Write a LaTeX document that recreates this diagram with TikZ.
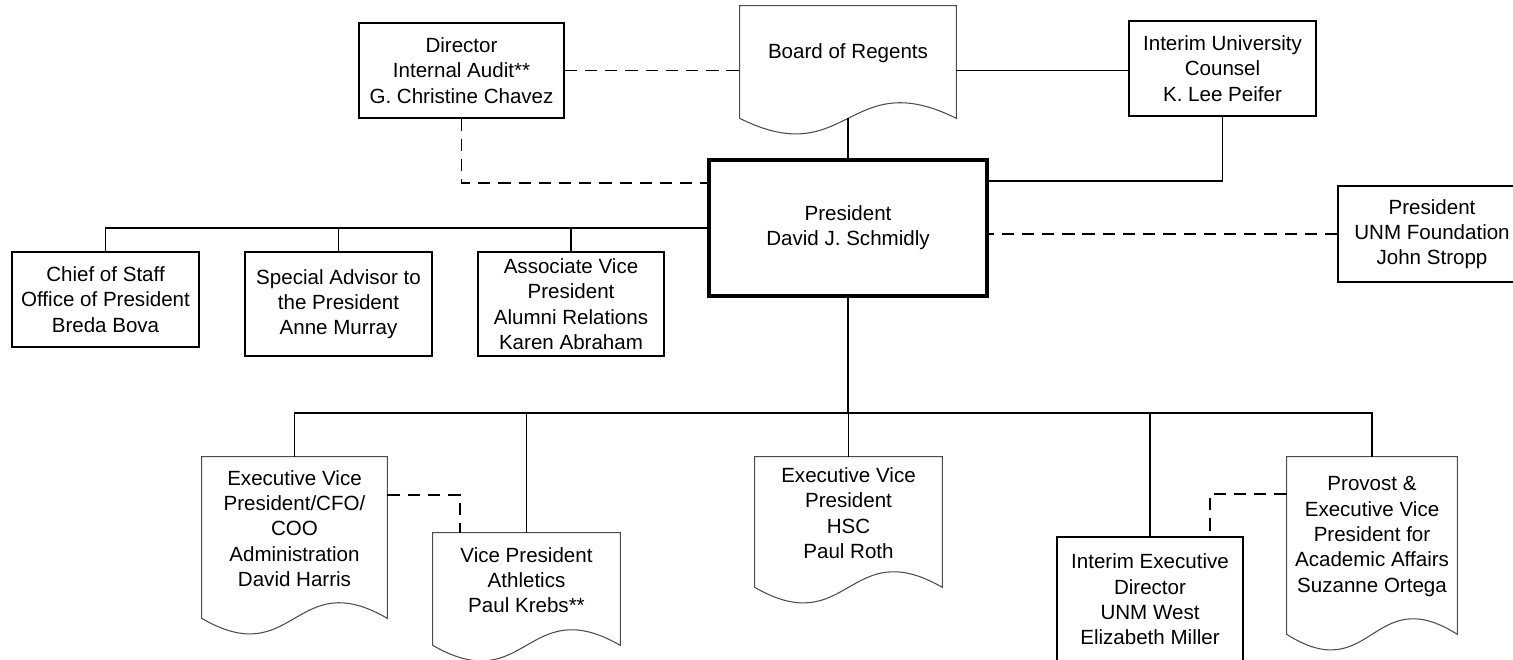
\documentclass[tikz,border=0pt]{standalone}
\usepackage{fontspec}
\setmainfont{Liberation Sans}
\usetikzlibrary{calc}
\newcommand\orgfont{\fontsize{11.7}{14.4}\selectfont}
\tikzset{
  orgbox/.style={draw,line width=0.9pt,align=center,inner sep=0pt,font=\orgfont},
  docbox/.style={align=center,inner sep=0pt,font=\orgfont},
  docline/.style={line width=0.6pt,black!70},
  presbox/.style={orgbox,line width=2.3pt},
  link/.style={line width=0.85pt},
  dotlink/.style={link,dash pattern=on 7pt off 4.5pt},
}
% document outline: straight top and sides, wavy bottom below the node
\newcommand\docoutline[1]{%
  \draw[docline] (#1.north west) -- (#1.north east) -- ($(#1.south east)+(0,18)$)
    .. controls ($(#1.south)+(0,-36)$) and ($(#1.south)+(0,72)$) .. ($(#1.south west)+(0,18)$)
    -- cycle;}

\begin{document}
\begin{tikzpicture}[x=0.02cm,y=-0.02cm]
  \useasboundingbox (0,0) rectangle (1513,659);
  % --- top row ---
  \node[orgbox,minimum width=4.1cm,minimum height=1.9cm] (audit) at (461.5,70.5)
    {Director\\Internal Audit**\\G. Christine Chavez};
  \node[docbox,minimum width=4.32cm,minimum height=1.88cm] (board) at (848,53) {Board of Regents};
  \node[orgbox,minimum width=3.74cm,minimum height=1.9cm] (counsel) at (1222.5,68.5)
    {Interim University\\Counsel\\K. Lee Peifer};
  \node[presbox,minimum width=5.56cm,minimum height=2.72cm] (pres) at (848,228)
    {President\\David J. Schmidly};
  \node[orgbox,minimum width=3.76cm,minimum height=1.92cm] (found) at (1432,234)
    {President\\UNM Foundation\\John Stropp};
  % --- staff row ---
  \node[orgbox,minimum width=3.74cm,minimum height=1.9cm] (chief) at (105.5,299.5)
    {Chief of Staff\\Office of President\\Breda Bova};
  \node[orgbox,minimum width=3.74cm,minimum height=2.08cm] (advisor) at (338.5,304)
    {Special Advisor to\\the President\\Anne Murray};
  \node[orgbox,minimum width=3.72cm,minimum height=2.08cm] (alumni) at (571,304)
    {Associate Vice\\President\\Alumni Relations\\Karen Abraham};
  % --- vice presidents ---
  \node[docbox,minimum width=3.7cm,minimum height=2.86cm] (cfo) at (294.5,528.5)
    {Executive Vice\\President/CFO/\\COO\\Administration\\David Harris};
  \node[docbox,minimum width=3.74cm,minimum height=1.88cm] (athl) at (526.5,580)
    {Vice President\\Athletics\\Paul Krebs**};
  \node[docbox,minimum width=3.74cm,minimum height=2.24cm] (hsc) at (848.5,513)
    {Executive Vice\\President\\HSC\\Paul Roth};
  \node[orgbox,minimum width=3.72cm,minimum height=2.5cm] (west) at (1150,599.5)
    {Interim Executive\\Director\\UNM West\\Elizabeth Miller};
  \node[docbox,minimum width=3.4cm,minimum height=3.18cm] (provost) at (1372,536.5)
    {Provost \&\\Executive Vice\\President for\\Academic Affairs\\Suzanne Ortega};
  \foreach \d in {board,cfo,athl,hsc,provost} {\docoutline{\d}}
  % --- connectors ---
  \draw[dotlink] (audit.east) -- (audit.east -| board.west);
  \draw[link] (audit.east -| board.east) -- (audit.east -| counsel.west);
  \draw[link] ($(board.south)+(0,18)$) -- (pres.north);
  \draw[link] (counsel.south) |- ($(pres.north east)+(0,23)$);
  \draw[dotlink] (audit.south) |- ($(pres.north west)+(0,25)$);
  \draw[dotlink] (found.west) -- (found.west -| pres.east);
  \draw[link] (pres.west) -| (chief.north);
  \draw[link] (advisor.north) -- (advisor.north |- pres.west);
  \draw[link] (alumni.north) -- (alumni.north |- pres.west);
  \coordinate (bus) at (848,413);
  \draw[link] (pres.south) -- (bus);
  \draw[link] (cfo.north) |- (bus) -| (provost.north);
  \draw[link] (athl.north) -- (athl.north |- bus);
  \draw[link] (hsc.north) -- (hsc.north |- bus);
  \draw[link] (west.north) -- (west.north |- bus);
  \draw[dotlink] ($(cfo.east)+(0,-33.5)$) -| ($(athl.north)+(-66.5,0)$);
  \draw[dotlink] ($(provost.west)+(0,-42.5)$) -| ($(west.north)+(60,0)$);
\end{tikzpicture}
\end{document}
